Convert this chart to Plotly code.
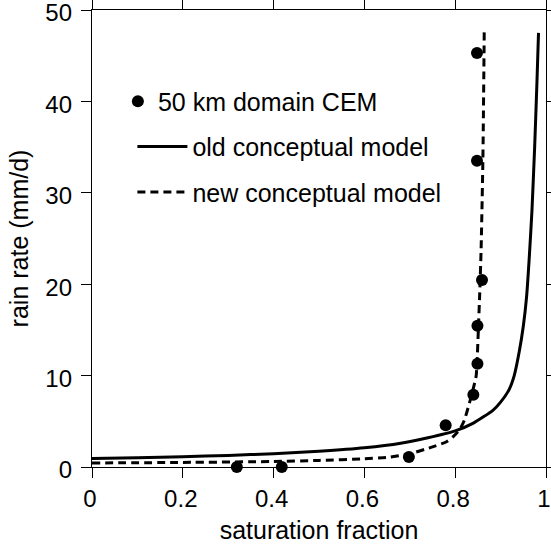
import plotly.graph_objects as go

# CEM data points
cem_x = [0.319, 0.418, 0.698, 0.779, 0.840, 0.849, 0.849, 0.859, 0.848, 0.848]
cem_y = [0.0, 0.0, 1.1, 4.57, 7.9, 11.3, 15.45, 20.45, 33.5, 45.3]

# old conceptual model
old_x = [0.0, 0.1, 0.2, 0.3, 0.4, 0.5, 0.6, 0.68, 0.74, 0.8, 0.84, 0.883, 0.9, 0.919,
         0.93, 0.941, 0.95, 0.957, 0.963, 0.969, 0.975, 0.98, 0.9835]
old_y = [0.92, 1.0, 1.12, 1.27, 1.45, 1.72, 2.1, 2.6, 3.2, 3.95, 4.8, 6.2, 7.1, 8.5,
         10.0, 12.6, 15.4, 18.5, 22.8, 28.0, 35.0, 42.0, 47.5]

# new conceptual model
new_x = [0.0, 0.2, 0.4, 0.5, 0.6, 0.65, 0.7, 0.75, 0.78, 0.795, 0.81, 0.82, 0.833,
         0.846, 0.848, 0.851, 0.854, 0.857, 0.861, 0.864]
new_y = [0.44, 0.5, 0.6, 0.72, 0.9, 1.05, 1.45, 2.2, 2.74, 3.3, 4.1, 5.1, 7.3,
         9.9, 11.3, 15.0, 19.0, 23.7, 33.6, 47.9]

x_ticks = [0, 0.2, 0.4, 0.6, 0.8, 1]
x_ticklabels = ["0", "0.2", "0.4", "0.6", "0.8", "1"]
y_ticks = [0, 10, 20, 30, 40, 50]

FONT = "Liberation Sans, Arial, sans-serif"

fig = go.Figure()
fig.add_trace(go.Scatter(
    x=old_x, y=old_y, mode="lines", name="old conceptual model",
    line=dict(color="black", width=3, shape="spline", smoothing=0.5),
    legend="legend2", legendgroup="old"))
fig.add_trace(go.Scatter(
    x=new_x, y=new_y, mode="lines", name="new conceptual model",
    line=dict(color="black", width=3, dash="8px,5px", shape="spline", smoothing=0.5),
    legend="legend2", legendgroup="new"))
fig.add_trace(go.Scatter(
    x=cem_x, y=cem_y, mode="markers", name="50 km domain CEM",
    marker=dict(color="black", size=12), cliponaxis=False,
    legend="legend"))

axis_common = dict(
    showline=True, linecolor="black", linewidth=1.3, mirror="ticks",
    ticks="outside", ticklen=10, tickwidth=1.3, tickcolor="black",
    showgrid=False, zeroline=False, automargin=False,
    ticklabeloverflow="allow",
    tickfont=dict(family=FONT, size=24, color="black"),
)

fig.update_layout(
    width=551, height=546,
    margin=dict(l=92, r=5, t=10, b=79),
    paper_bgcolor="white", plot_bgcolor="white",
    font=dict(family=FONT, size=25, color="black"),
    xaxis=dict(range=[0, 1], tickvals=x_ticks, ticktext=x_ticklabels,
               ticklabelshift=-2,
               title=dict(text="saturation fraction", font=dict(size=25), standoff=10),
               **axis_common),
    yaxis=dict(range=[0, 50], tickvals=y_ticks, ticklabelstandoff=4,
               ticklabelshift=3,
               title=dict(text="rain rate (mm/d)", font=dict(size=25), standoff=9),
               **axis_common),
    legend=dict(x=0.057, y=0.85, xanchor="left", yanchor="top",
                bgcolor="rgba(0,0,0,0)", borderwidth=0,
                font=dict(family=FONT, size=25), itemwidth=30),
    legend2=dict(x=0.089, y=0.751, xanchor="left", yanchor="top",
                 bgcolor="rgba(0,0,0,0)", borderwidth=0,
                 font=dict(family=FONT, size=25), itemwidth=50,
                 traceorder="grouped", tracegroupgap=10),
    showlegend=True,
)

fig.write_html(
    "out.html",
    config={"displayModeBar": False},
    post_script="document.body.style.margin='0px';document.body.style.overflow='hidden';",
)
